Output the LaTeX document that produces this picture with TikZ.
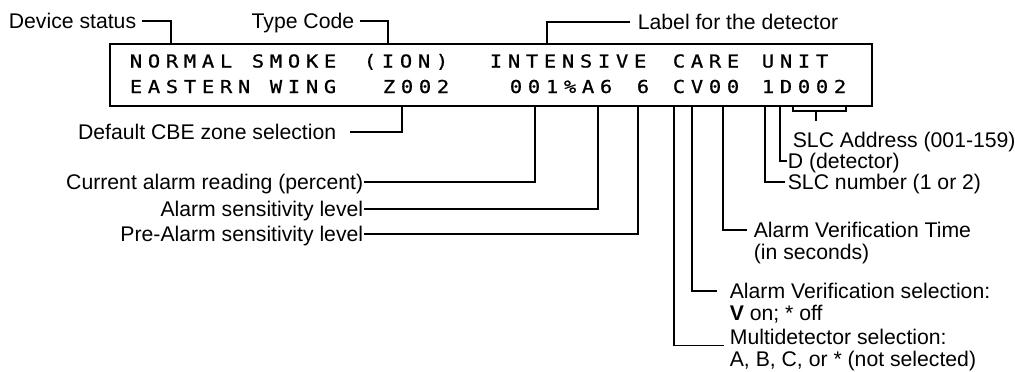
\documentclass[tikz,border=0pt]{standalone}
\usepackage{fontspec}
\setmainfont{Liberation Sans}
\newfontfamily\lcdFace[FakeStretch=1.15,FakeBold=0.8,LetterSpace=32]{DejaVu Sans Mono}
\usetikzlibrary{positioning}
\newcommand{\labelFont}{\fontsize{21.2}{22}\selectfont}
\newcommand{\lcdFont}{\lcdFace\fontsize{17.8}{17.8}\selectfont}
\newcommand{\boxTop}{43}
\newcommand{\boxBottom}{105}
\newcommand{\lineOne}{67.5}
\newcommand{\lineTwo}{93}

\begin{document}
\begin{tikzpicture}[x=1pt, y=-1pt, line width=1.7pt,
  lcd/.style={anchor=base west, inner sep=0pt, font=\lcdFont},
  tag/.style={inner sep=0pt, text height=15pt, text depth=0pt, font=\labelFont}]
\useasboundingbox (0,0) rectangle (1015,372);
% display window
\node[draw, anchor=north west, inner sep=0pt, minimum width=762pt, minimum height=62pt] (display) at (109,\boxTop) {};
\node[lcd] (w1) at (129,\lineOne) {NORMAL};
\node[lcd] (w2) at (251,\lineOne) {SMOKE};
\node[lcd] (w3) at (363,\lineOne) {(ION)};
\node[lcd] (w4) at (489,\lineOne) {INTENSIVE};
\node[lcd] (w5) at (672,\lineOne) {CARE};
\node[lcd] (w6) at (761,\lineOne) {UNIT};
\node[lcd] (v1) at (129,\lineTwo) {EASTERN};
\node[lcd] (v2) at (269,\lineTwo) {WING};
\node[lcd] (v3) at (382,\lineTwo) {Z002};
\node[lcd] (v4) at (509,\lineTwo) {001\%A6};
\node[lcd] (v5) at (636,\lineTwo) {6};
\node[lcd] (v6) at (672,\lineTwo) {CV00};
\node[lcd] (v7) at (761,\lineTwo) {1D002};
% points on the window edge
\coordinate (tstatus) at (171,\boxTop);
\coordinate (ttype) at (388,\boxTop);
\coordinate (tlabel) at (547,\boxTop);
\coordinate (tzone) at (402,\boxBottom);
\coordinate (tcurrent) at (535,\boxBottom);
\coordinate (talarm) at (598,\boxBottom);
\coordinate (tpre) at (638,\boxBottom);
\coordinate (tmulti) at (674,\boxBottom);
\coordinate (tverif) at (692,\boxBottom);
\coordinate (ttime) at (723,\boxBottom);
\coordinate (tslc) at (765,\boxBottom);
\coordinate (tdet) at (780,\boxBottom);
\coordinate (taddrl) at (793,\boxBottom);
\coordinate (taddrr) at (846,\boxBottom);
\coordinate (addrmid) at (816,111);
% labels above
\node[tag, anchor=east] (status) at (137,21) {Device status};
\node[tag, anchor=east] (typecode) at (355,21) {Type Code};
\node[tag, anchor=west] (detlabel) at (637,22) {Label for the detector};
\draw ([xshift=5pt]status.east) -| (tstatus);
\draw ([xshift=5pt]typecode.east) -| (ttype);
\draw ([xshift=-7pt]detlabel.west) -| (tlabel);
% labels below, left
\node[tag, anchor=east] (zone) at (337,132) {Default CBE zone selection};
\node[tag, anchor=east] (current) at (364,182) {Current alarm reading (percent)};
\node[tag, anchor=east] (alarm) at (364,209) {Alarm sensitivity level};
\node[tag, anchor=east] (prealarm) at (364,234) {Pre-Alarm sensitivity level};
\draw ([xshift=13pt]zone.east) -| (tzone);
\draw (current.east) -| (tcurrent);
\draw (alarm.east) -| (talarm);
\draw (prealarm.east) -| (tpre);
% labels below, right
\node[tag, anchor=west] (address) at (792,140) {SLC Address (001-159)};
\node[tag, anchor=west] (detector) at (787,161) {D (detector)};
\node[tag, anchor=west] (slcnum) at (787,182) {SLC number (1 or 2)};
\node[tag, anchor=west] (vtime) at (753,230) {Alarm Verification Time};
\node[tag, anchor=west] (vtime2) at (753,252) {(in seconds)};
\node[tag, anchor=west] (vsel) at (729,291) {Alarm Verification selection:};
\node[tag, anchor=west] (vsel2) at (729,313) {\textbf{V} on; * off};
\node[tag, anchor=west] (multi) at (729,337) {Multidetector selection:};
\node[tag, anchor=west] (multi2) at (729,359) {A, B, C, or * (not selected)};
\draw (taddrl) |- (addrmid) -| (taddrr);
\draw[shorten >=11pt] (addrmid) -- (addrmid |- address.north);
\draw (tdet) |- (detector.west);
\draw (tslc) |- ([xshift=-2pt]slcnum.west);
\draw (ttime) |- ([xshift=-6pt]vtime.west);
\draw (tverif) |- ([xshift=-12pt]vsel.west);
\draw (tmulti) |- ([xshift=-5pt]multi.south west);
\end{tikzpicture}
\end{document}
